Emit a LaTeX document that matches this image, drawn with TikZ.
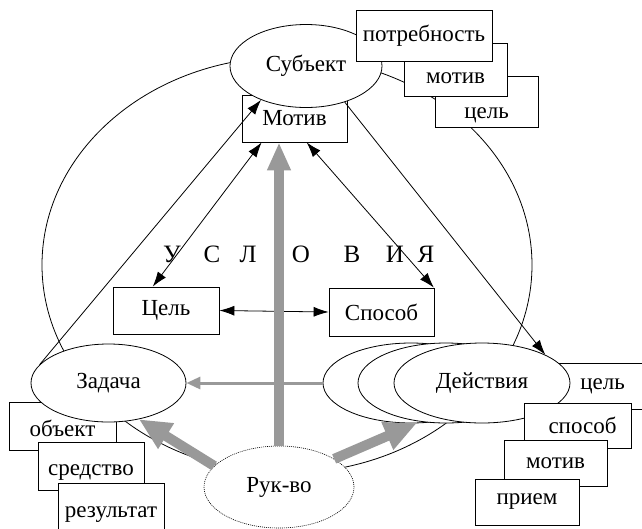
\documentclass[tikz,border=0pt]{standalone}
\usepackage{fontspec}
\setmainfont{Liberation Serif}
\usetikzlibrary{arrows.meta,shapes.geometric}

\begin{document}
\begin{tikzpicture}[x=1pt,y=-1pt,line width=0.8pt,
        font=\fontsize{23}{27}\selectfont,
        oval/.style={ellipse,draw,fill=white,inner sep=0pt},
        box/.style={rectangle,draw,fill=white,inner sep=0pt},
        tshift/.style={text height=#1,text depth=0pt},
        one/.style={-{Latex[length=15pt,width=10pt]}},
        both/.style={{Latex[length=15pt,width=10pt]}-{Latex[length=15pt,width=10pt]}},
        lead/.style={draw=black!40,line width=10pt,-{Triangle[length=32pt,width=28pt]}}]
    \useasboundingbox (0,0) rectangle (642,528);
    \clip (0,0) rectangle (642,528);
    % big circle
    \draw (287,265) ellipse [x radius=245pt,y radius=208pt];
    % subject
    \node[box,minimum width=105pt,minimum height=47pt] (motiv) at (294.5,118.5) {Мотив};
    \node[oval,minimum width=152pt,minimum height=83pt] (subj) at (306,66) {Субъект};
    \node[box,minimum width=103pt,minimum height=51pt,tshift=33pt] (celT) at (486.5,101.5) {цель};
    \node[box,minimum width=103pt,minimum height=53pt,tshift=27pt] (motT) at (455.5,69.5) {мотив};
    \node[box,minimum width=136pt,minimum height=51pt] (potr) at (424,35.5) {потребность};
    % middle
    \node[box,minimum width=106pt,minimum height=47pt] (cel) at (166,310.5) {Цель};
    \node[box,minimum width=105pt,minimum height=48pt] (spos) at (381.5,312) {Способ};
    \foreach \l/\x in {У/172,С/212,Л/248,О/301,В/352,И/395,Я/426}{%
            \node[font=\fontsize{25}{28}\selectfont] (u\x) at (\x,254) {\l};
        }
    % task
    \node[box,minimum width=107pt,minimum height=48pt,tshift=21pt] (obj) at (62.5,426) {объект};
    \node[oval,minimum width=155pt,minimum height=78pt] (zad) at (108.5,383) {Задача};
    \node[box,minimum width=106pt,minimum height=48pt,tshift=19pt] (sred) at (91,466) {средство};
    \node[box,minimum width=106pt,minimum height=48pt,tshift=20pt] (rez) at (111,507) {результат};
    % actions
    \node[box,minimum width=115pt,minimum height=46pt] (celR) at (602.5,386) {цель};
    \foreach \i/\x in {1/411,2/446}{%
            \node[oval,minimum width=176pt,minimum height=80pt] (act\i) at (\x,383) {};
        }
    \node[oval,minimum width=176pt,minimum height=80pt] (act3) at (482,383) {Действия};
    \node[box,minimum width=107pt,minimum height=45pt] (sposR) at (577.5,425.5) {\hspace{10pt}способ};
    \node[box,minimum width=103pt,minimum height=46pt] (motR) at (555.5,463) {мотив};
    \node[box,minimum width=104pt,minimum height=46pt] (priem) at (527,502) {прием};
    % leadership
    \node[oval,dash pattern=on 1pt off 1pt,line width=0.6pt,minimum width=150pt,minimum height=82pt] (ruk) at (279,487) {Рук-во};
    % links
    \draw[one] (zad.165) -- (subj.217);
    \draw[one] (subj.-43) -- (act3.24);
    \draw[both] (motiv.216) -- (cel.119);
    \draw[both] (motiv.-63) -- (spos.25);
    \draw[both] (cel.east) -- (spos.west);
    \draw[draw=black!40,line width=3pt,-{Triangle[length=14pt,width=12pt]}] (act1.west) -- (zad.east);
    \draw[lead,-{Triangle[length=28pt,width=22pt]}] (ruk.north) -- (ruk.north |- motiv.south);
    \draw[lead] (ruk.162) -- (zad.-50);
    \draw[lead] (ruk.27) -- (act1.-82);
\end{tikzpicture}
\end{document}
